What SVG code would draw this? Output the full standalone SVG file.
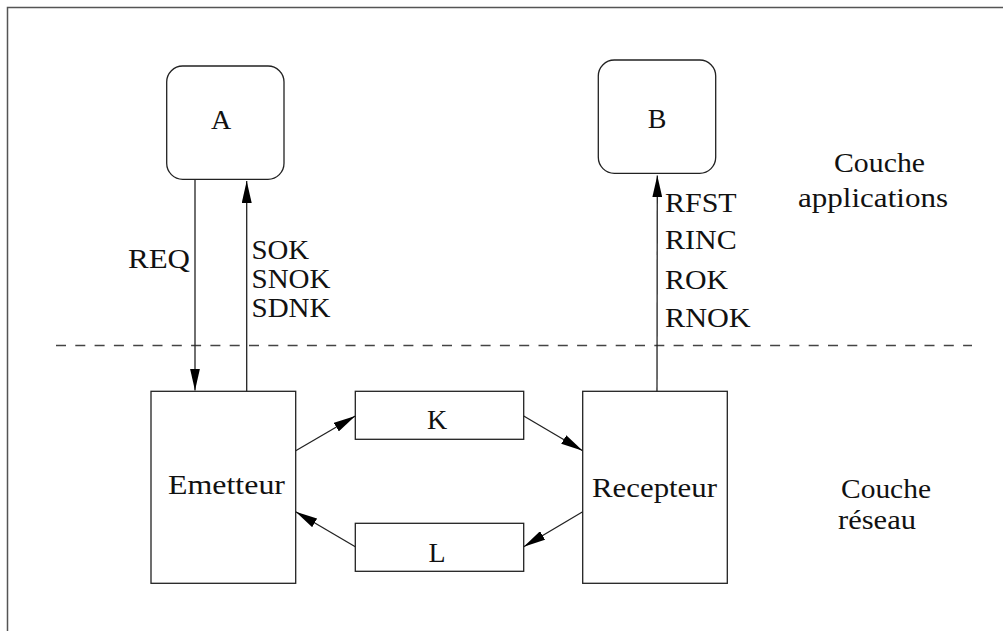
<svg xmlns="http://www.w3.org/2000/svg" width="1003" height="631" viewBox="0 0 1003 631">
  <style>
    .box { fill: #fff; stroke: #222; stroke-width: 1.3; }
    .conn { fill: none; stroke: #222; stroke-width: 1.3; }
    .lbl { font-family: "Liberation Serif", serif; font-size: 28px; fill: #111; }
    .mid { text-anchor: middle; }
  </style>
  <defs>
    <marker id="arrow" markerUnits="userSpaceOnUse" markerWidth="22" markerHeight="10" refX="22" refY="5" orient="auto">
      <path d="M0,0 L22,5 L0,10 z" fill="#000"/>
    </marker>
  </defs>
  <rect width="1003" height="631" fill="#fff"/>

  <!-- outer frame (top and left edges) -->
  <path d="M7.5,631 V7.5 H1003" fill="none" stroke="#555" stroke-width="1.5"/>

  <!-- layer separator -->
  <line x1="56" y1="345.5" x2="972" y2="345.5" stroke="#444" stroke-width="1.3" stroke-dasharray="10,9.3"/>

  <!-- layer captions -->
  <text class="lbl" font-family="Liberation Serif, serif" x="834" y="172" textLength="91" lengthAdjust="spacingAndGlyphs">Couche</text>
  <text class="lbl" font-family="Liberation Serif, serif" x="798" y="207" textLength="150" lengthAdjust="spacingAndGlyphs">applications</text>
  <text class="lbl" font-family="Liberation Serif, serif" x="841" y="498" textLength="90" lengthAdjust="spacingAndGlyphs">Couche</text>
  <text class="lbl" font-family="Liberation Serif, serif" x="838" y="529" textLength="78" lengthAdjust="spacingAndGlyphs">réseau</text>

  <g id="node-A">
    <rect class="box" x="166.7" y="66" width="117.3" height="113.3" rx="16" ry="16"/>
    <text class="lbl mid" font-family="Liberation Serif, serif" x="221" y="129">A</text>
  </g>

  <g id="node-B">
    <rect class="box" x="598.3" y="60" width="117.4" height="113.3" rx="16" ry="16"/>
    <text class="lbl mid" font-family="Liberation Serif, serif" x="657" y="128">B</text>
  </g>

  <g id="node-emetteur">
    <rect class="box" x="151" y="391.3" width="144.7" height="192"/>
    <text class="lbl" font-family="Liberation Serif, serif" x="168" y="494" textLength="117" lengthAdjust="spacingAndGlyphs">Emetteur</text>
  </g>

  <g id="node-K">
    <rect class="box" x="355.3" y="391.3" width="168.4" height="48"/>
    <text class="lbl mid" font-family="Liberation Serif, serif" x="437" y="429">K</text>
  </g>

  <g id="node-L">
    <rect class="box" x="355.3" y="523.3" width="168.4" height="48"/>
    <text class="lbl mid" font-family="Liberation Serif, serif" x="437" y="562">L</text>
  </g>

  <g id="node-recepteur">
    <rect class="box" x="582.7" y="391.3" width="144.6" height="192"/>
    <text class="lbl" font-family="Liberation Serif, serif" x="592" y="497" textLength="125" lengthAdjust="spacingAndGlyphs">Recepteur</text>
  </g>

  <g id="connectors">
    <!-- A -> Emetteur -->
    <line class="conn" x1="195" y1="180" x2="195" y2="390.5" marker-end="url(#arrow)"/>
    <text class="lbl" font-family="Liberation Serif, serif" x="128" y="268" textLength="62" lengthAdjust="spacingAndGlyphs">REQ</text>
    <!-- Emetteur -> A -->
    <line class="conn" x1="246.7" y1="391.3" x2="246.7" y2="181" marker-end="url(#arrow)"/>
    <text class="lbl" font-family="Liberation Serif, serif" x="251.5" y="259" textLength="57.7" lengthAdjust="spacingAndGlyphs">SOK</text>
    <text class="lbl" font-family="Liberation Serif, serif" x="251.5" y="288" textLength="79" lengthAdjust="spacingAndGlyphs">SNOK</text>
    <text class="lbl" font-family="Liberation Serif, serif" x="251.5" y="317" textLength="79" lengthAdjust="spacingAndGlyphs">SDNK</text>
    <!-- Recepteur -> B -->
    <line class="conn" x1="657" y1="391.3" x2="657.3" y2="175.5" marker-end="url(#arrow)"/>
    <text class="lbl" font-family="Liberation Serif, serif" x="665" y="212" textLength="71.7" lengthAdjust="spacingAndGlyphs">RFST</text>
    <text class="lbl" font-family="Liberation Serif, serif" x="665" y="249" textLength="71.7" lengthAdjust="spacingAndGlyphs">RINC</text>
    <text class="lbl" font-family="Liberation Serif, serif" x="665" y="288.5" textLength="63" lengthAdjust="spacingAndGlyphs">ROK</text>
    <text class="lbl" font-family="Liberation Serif, serif" x="665" y="326.5" textLength="85.7" lengthAdjust="spacingAndGlyphs">RNOK</text>
    <!-- Emetteur -> K -> Recepteur -->
    <line class="conn" x1="295.7" y1="450.7" x2="355.3" y2="416" marker-end="url(#arrow)"/>
    <line class="conn" x1="523.7" y1="416" x2="582.7" y2="450.7" marker-end="url(#arrow)"/>
    <!-- Recepteur -> L -> Emetteur -->
    <line class="conn" x1="582.7" y1="511.7" x2="523.7" y2="546.7" marker-end="url(#arrow)"/>
    <line class="conn" x1="355.3" y1="546.7" x2="295.7" y2="511.7" marker-end="url(#arrow)"/>
  </g>
</svg>
